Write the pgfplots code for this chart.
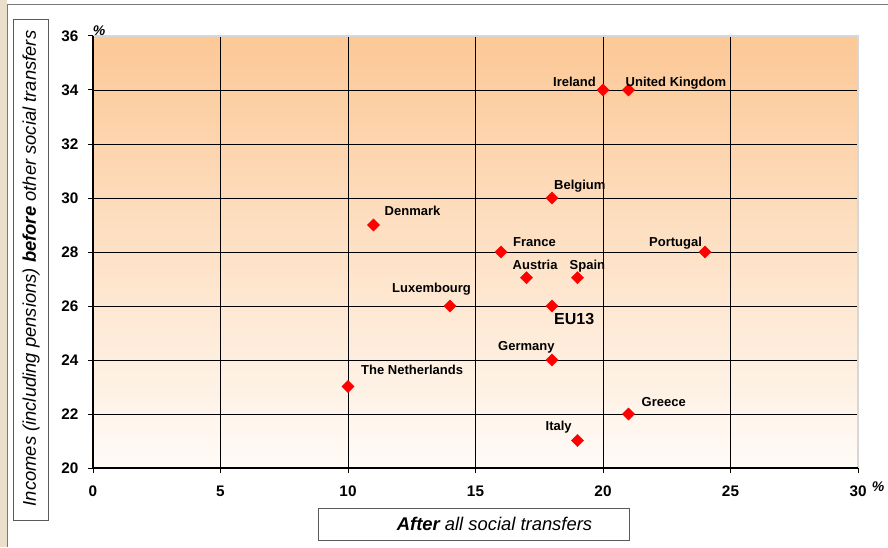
\documentclass[border=0pt]{standalone}
\usepackage{fontspec}
\setmainfont{Liberation Sans}
\usepackage{pgfplots}
\usepackage{pgfplotstable}
\pgfplotsset{compat=1.18}
\definecolor{bgtop}{RGB}{252,200,150}
\definecolor{bgbot}{RGB}{255,251,247}
\definecolor{frameg}{RGB}{120,120,120}
\definecolor{beige}{RGB}{233,223,203}
\definecolor{lightg}{RGB}{215,215,215}
\definecolor{boxg}{RGB}{90,90,90}

\pgfplotstableread[col sep=comma]{
x,y,dx,dy,name
20,34,-50,3,Ireland
21,34,-3,3,United Kingdom
18,30,2,9,Belgium
11,29,11,10,Denmark
16,28,12,6,France
24,28,-56,6,Portugal
17,27.05,-14,8,Austria
19,27.05,-8,8,Spain
14,26,-58,14,Luxembourg
18,24,-54,10,Germany
10,23.02,13,12,The Netherlands
21,22,13,8,Greece
19,21.02,-32,10,Italy
}\data

\pgfplotstableread[col sep=comma]{
x,y,dx,dy,name
18,26,2,-18,EU13
}\eudata

\begin{document}
\begin{tikzpicture}
\path[use as bounding box] (0pt,0pt) rectangle (888pt,547pt);
% outer frame
\fill[beige] (0pt,0pt) rectangle (7pt,547pt);
\draw[frameg, line width=1.6pt] (7.5pt,0pt) -- (7.5pt,542.5pt) -- (888pt,542.5pt);
% y label box
\draw[boxg, line width=0.8pt] (13pt,27pt) rectangle (48pt,528pt);
\node[rotate=90, font=\fontsize{18.4}{21}\selectfont\itshape] at (31pt,278.5pt) {Incomes (including pensions) \textbf{before} other social transfers};
% x label box
\draw[boxg, line width=0.8pt] (318pt,7pt) rectangle (629pt,39pt);
\node[font=\fontsize{18.4}{21}\selectfont\itshape] at (494.5pt,23pt) {\textbf{After} all social transfers};
% percent signs
\node[font=\fontsize{14}{16}\selectfont\bfseries\itshape] at (99pt,516pt) {\%};
\node[font=\fontsize{14}{16}\selectfont\bfseries\itshape] at (878pt,60pt) {\%};

\begin{axis}[
  at={(93pt,79pt)}, anchor=south west,
  scale only axis, width=765pt, height=432pt,
  xmin=0, xmax=30, ymin=20, ymax=36,
  xtick={0,5,...,25}, ytick={20,22,...,34},
  extra x ticks={30}, extra y ticks={36},
  extra tick style={grid=none},
  grid=major,
  major grid style={black, line width=0.9pt},
  axis line style={draw=none},
  axis background/.style={top color=bgtop, bottom color=bgbot},
  tick align=outside, tick pos=left,
  major tick length=5pt,
  tick style={black, line width=1pt},
  /pgf/number format/assume math mode=true,
  ticklabel style={font=\fontsize{15.3}{18}\selectfont\bfseries},
  xticklabel style={yshift=-9pt},
  yticklabel style={xshift=-6pt},
  clip=false,
]
\draw[lightg, line width=1.4pt] (rel axis cs:0,1) -- (rel axis cs:1,1) -- (rel axis cs:1,0);
\draw[black, line width=1.6pt] (rel axis cs:0,1) -- (rel axis cs:0,0) -- (rel axis cs:1,0);
\addplot[only marks, mark=square*, mark size=4.3pt,
  mark options={rotate=45, fill=red, draw=red},
  visualization depends on={\thisrow{dx}\as\dx},
  visualization depends on={\thisrow{dy}\as\dy},
  point meta=explicit symbolic,
  nodes near coords,
  every node near coord/.append style={anchor=base west, inner sep=0pt,
     xshift=\dx pt, yshift=\dy pt, font=\fontsize{13}{15}\selectfont\bfseries, text=black}
] table[x=x, y=y, meta=name] {\data};
\addplot[only marks, mark=square*, mark size=4.3pt,
  mark options={rotate=45, fill=red, draw=red},
  visualization depends on={\thisrow{dx}\as\dx},
  visualization depends on={\thisrow{dy}\as\dy},
  point meta=explicit symbolic,
  nodes near coords,
  every node near coord/.append style={anchor=base west, inner sep=0pt,
     xshift=\dx pt, yshift=\dy pt, font=\fontsize{16}{18}\selectfont\bfseries, text=black}
] table[x=x, y=y, meta=name] {\eudata};
\end{axis}
\end{tikzpicture}
\end{document}
